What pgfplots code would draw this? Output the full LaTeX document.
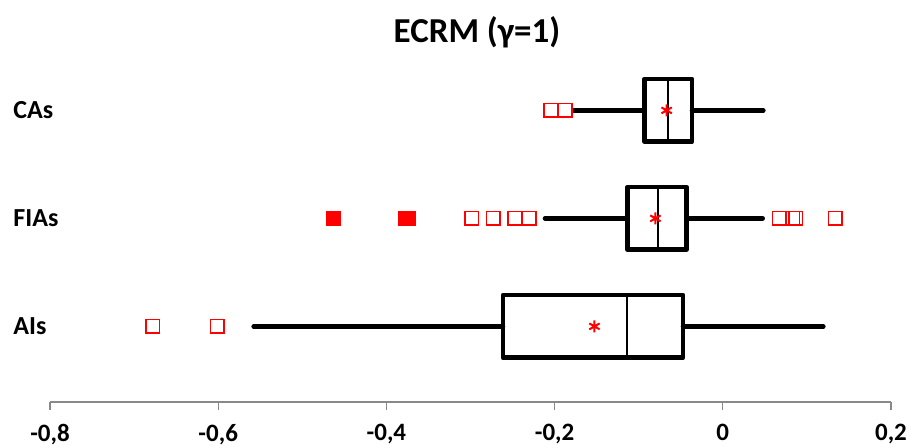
\documentclass[border=0pt]{standalone}
\usepackage{fontspec}
\setmainfont{Carlito}
\usepackage{pgfplots}
\pgfplotsset{compat=1.18}
\usepgfplotslibrary{statistics}
\definecolor{axisgray}{HTML}{898989}

\begin{document}
\begin{tikzpicture}[x=1pt,y=1pt]
\useasboundingbox (0,0) rectangle (455,224);
\begin{axis}[at={(25pt,23pt)},anchor=south west,scale only axis,
  width=420.5pt,height=176pt,
  xmin=-0.8,xmax=0.2,ymin=0.3,ymax=3.559,clip=false,
  axis lines*=left,
  y axis line style={draw=none},ytick style={draw=none},
  x axis line style={axisgray,line width=0.65pt},
  xtick style={axisgray,line width=0.65pt},
  tick align=outside,major tick length=4pt,
  xtick={-0.8,-0.6,-0.4,-0.2,0,0.2},
  xticklabels={{-0,8},{-0,6},{-0,4},{-0,2},0,{0,2}},
  xticklabel style={font=\bfseries\fontsize{12.5}{14}\selectfont,inner sep=0pt,yshift=-7pt},
  ytick={1,2,3},yticklabels={AIs,FIAs,CAs},
  yticklabel style={anchor=west,inner sep=0pt,xshift=-14.5pt,font=\bfseries\fontsize{13}{15}\selectfont},
  boxplot/box extend=0.58,boxplot/whisker extend=0,
  boxplot/every median/.style={line width=1pt}]

% AIs
\addplot[black,line width=2.3pt,line cap=round,line join=round,
  boxplot prepared={lower whisker=-0.5578,lower quartile=-0.2614,median=-0.1136,
  upper quartile=-0.0473,upper whisker=0.1195,draw position=1}] coordinates {};
% FIAs
\addplot[black,line width=2.3pt,line cap=round,line join=round,
  boxplot prepared={lower whisker=-0.2114,lower quartile=-0.1134,median=-0.0772,
  upper quartile=-0.0432,upper whisker=0.0474,draw position=2}] coordinates {};
% CAs
\addplot[black,line width=2.3pt,line cap=round,line join=round,
  boxplot prepared={lower whisker=-0.1778,lower quartile=-0.0930,median=-0.0648,
  upper quartile=-0.0366,upper whisker=0.0482,draw position=3}] coordinates {};

% outliers
\addplot[only marks,mark=square,red,mark size=3.4pt,line width=0.7pt] coordinates {
  (-0.6778,1) (-0.6014,1)
  (-0.2986,2) (-0.2729,2) (-0.2471,2) (-0.2301,2)
  (0.0672,2) (0.0831,2) (0.0870,2) (0.1334,2)
  (-0.2043,3) (-0.1876,3)};
\addplot[only marks,mark=square*,red,mark size=3.6pt,line width=0pt] coordinates {
  (-0.4631,2) (-0.3767,2) (-0.3735,2)};

% means
\addplot[only marks,mark=asterisk,red,mark size=3pt,line width=1pt] coordinates {
  (-0.1526,1) (-0.0801,2) (-0.0668,3)};
\end{axis}
\node[font=\bfseries\fontsize{17.5}{20}\selectfont] at (238.5,208) {ECRM (γ=1)};
\end{tikzpicture}
\end{document}
